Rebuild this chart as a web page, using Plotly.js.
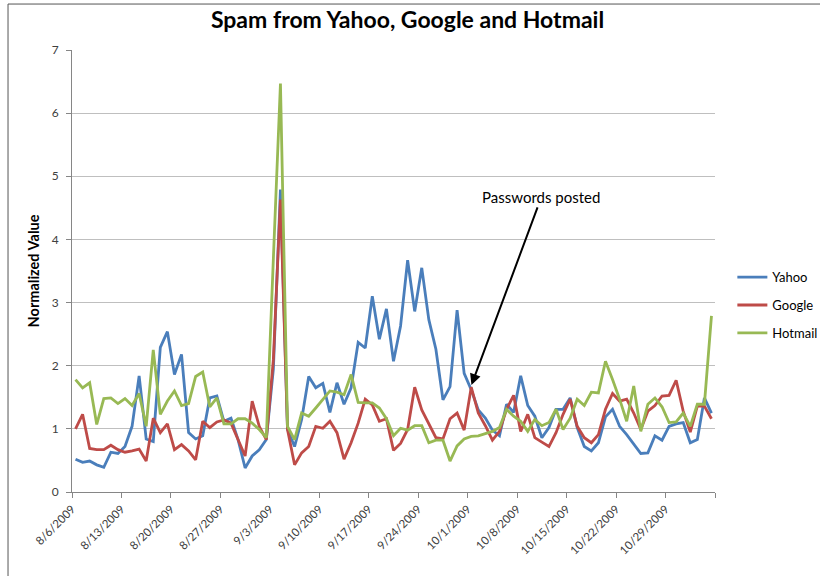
<!DOCTYPE html>
<html>
<head>
<meta charset="utf-8">
<script src="https://cdn.plot.ly/plotly-3.0.1.min.js"></script>
<style>html,body{margin:0;padding:0;background:#fff;}#chart{width:820px;height:576px;}</style>
</head>
<body>
<div id="chart"></div>
<script>
var startDate = '2009-08-06';
var tickLabels = ['8/6/2009','8/13/2009','8/20/2009','8/27/2009','9/3/2009','9/10/2009','9/17/2009','9/24/2009','10/1/2009','10/8/2009','10/15/2009','10/22/2009','10/29/2009',''];

var yahoo = [0.52,0.47,0.49,0.43,0.39,0.63,0.61,0.72,1.04,1.84,
  0.84,0.80,2.29,2.54,1.86,2.18,0.94,0.84,0.89,1.49,
  1.52,1.12,1.17,0.83,0.38,0.57,0.67,0.83,1.95,4.79,
  0.99,0.72,1.15,1.83,1.65,1.72,1.26,1.73,1.39,1.65,
  2.37,2.28,3.10,2.42,2.90,2.07,2.63,3.67,2.86,3.55,
  2.73,2.26,1.46,1.67,2.88,1.88,1.62,1.30,1.17,0.98,
  0.89,1.39,1.26,1.84,1.37,1.20,0.86,1.02,1.31,1.31,
  1.49,1.02,0.72,0.65,0.78,1.19,1.31,1.04,0.91,0.75,
  0.61,0.62,0.89,0.82,1.04,1.08,1.10,0.78,0.83,1.49,1.25];

var google = [1.00,1.23,0.69,0.67,0.67,0.74,0.67,0.63,0.65,0.68,
  0.49,1.17,0.94,1.08,0.67,0.75,0.65,0.51,1.12,1.02,
  1.11,1.14,1.09,0.83,0.57,1.44,1.04,0.83,2.10,4.63,
  0.99,0.43,0.62,0.72,1.04,1.01,1.12,0.94,0.52,0.78,
  1.09,1.47,1.38,1.12,1.16,0.66,0.77,0.99,1.66,1.30,
  1.07,0.86,0.84,1.16,1.25,0.98,1.66,1.25,1.05,0.82,
  0.96,1.31,1.53,0.96,1.23,0.86,0.79,0.72,0.94,1.23,
  1.47,1.04,0.86,0.78,0.91,1.31,1.56,1.44,1.47,1.25,
  0.99,1.28,1.37,1.52,1.53,1.77,1.28,0.95,1.36,1.36,1.16];

var hotmail = [1.78,1.65,1.73,1.07,1.48,1.49,1.40,1.48,1.37,1.56,
  1.04,2.25,1.23,1.44,1.60,1.37,1.40,1.83,1.90,1.35,
  1.49,1.08,1.08,1.16,1.16,1.09,0.99,0.86,3.70,6.47,
  1.04,0.83,1.25,1.20,1.33,1.46,1.60,1.58,1.54,1.86,
  1.42,1.41,1.41,1.33,1.16,0.89,1.01,0.98,1.05,1.05,
  0.78,0.82,0.82,0.49,0.73,0.84,0.88,0.89,0.92,0.96,
  1.02,1.31,1.20,1.12,0.96,1.15,1.05,1.10,1.31,0.99,
  1.17,1.47,1.37,1.58,1.57,2.07,1.78,1.47,1.12,1.68,
  0.96,1.39,1.49,1.35,1.10,1.11,1.25,1.04,1.39,1.39,2.79];

function dayStr(n, hour) {
  var d = new Date(Date.UTC(2009, 7, 6 + n, hour || 0));
  return d.toISOString().slice(0, 19).replace('T', ' ');
}
var dates = yahoo.map(function(_, i){ return dayStr(i, 12); });
var tickVals = tickLabels.map(function(_, i){ return dayStr(i * 7, 0); });

var font = 'Lato, "Open Sans", sans-serif';
function tr(name, vals, color, grp) {
  return {x: dates, y: vals, name: name, type: 'scatter', mode: 'lines',
    legendgroup: grp, line: {color: color, width: 2.8}};
}
var data = [
  tr('Yahoo', yahoo, '#4a7ebb', 'a'),
  tr('Google', google, '#be4b48', 'b'),
  tr('Hotmail', hotmail, '#98b954', 'c')
];

var layout = {
  width: 820, height: 576,
  margin: {l: 72, r: 105, t: 50, b: 84, autoexpand: false},
  paper_bgcolor: '#ffffff', plot_bgcolor: '#ffffff',
  font: {family: font, size: 11.5, color: '#404040'},
  title: {text: '<b>Spam from Yahoo, Google and Hotmail</b>', x: 0.497, xref: 'container', y: 0.965, yref: 'container', yanchor: 'middle',
    font: {family: font, size: 23, color: '#000000'}},
  xaxis: {type: 'date', range: [dayStr(0,0), dayStr(91,0)], tickmode: 'array', tickvals: tickVals, ticktext: tickLabels,
    tickangle: -45, ticks: 'outside', ticklen: 5, tickcolor: '#868686', showgrid: false, showline: true, linecolor: '#868686', linewidth: 1,
    zeroline: false, tickfont: {family: font, size: 11.5, color: '#404040'}},
  yaxis: {range: [0, 7], dtick: 1, tick0: 0, ticks: 'outside', ticklen: 5, tickcolor: '#868686', showline: true, linecolor: '#868686',
    gridcolor: '#bfbfbf', gridwidth: 1, zeroline: false, ticklabelstandoff: 5, tickfont: {family: font, size: 12, color: '#404040'},
    title: {text: '<b>Normalized Value</b>', standoff: 8, font: {family: font, size: 14.5, color: '#000000'}}},
  legend: {x: 1.027, xanchor: 'left', y: 0.52, yanchor: 'top', tracegroupgap: 8, bgcolor: 'rgba(0,0,0,0)',
    font: {family: font, size: 13, color: '#000000'}},
  annotations: [{x: '2009-10-01 12:45', y: 1.695, xref: 'x', yref: 'y', text: 'Passwords posted', showarrow: true,
    arrowhead: 2, arrowsize: 1.1, arrowwidth: 2, arrowcolor: '#000000', ax: 70, ay: -188, standoff: 0,
    font: {family: font, size: 15, color: '#000000'}}],
  shapes: [
    {type: 'line', xref: 'paper', yref: 'paper', x0: -0.0995, x1: -0.0995, y0: -0.2, y1: 1.104, line: {color: '#555', width: 1}},
    {type: 'line', xref: 'paper', yref: 'paper', x0: -0.0995, x1: 1.3, y0: 1.104, y1: 1.104, line: {color: '#555', width: 1}}
  ]
};
Plotly.newPlot('chart', data, layout, {displayModeBar: false, staticPlot: true});
</script>
</body>
</html>
